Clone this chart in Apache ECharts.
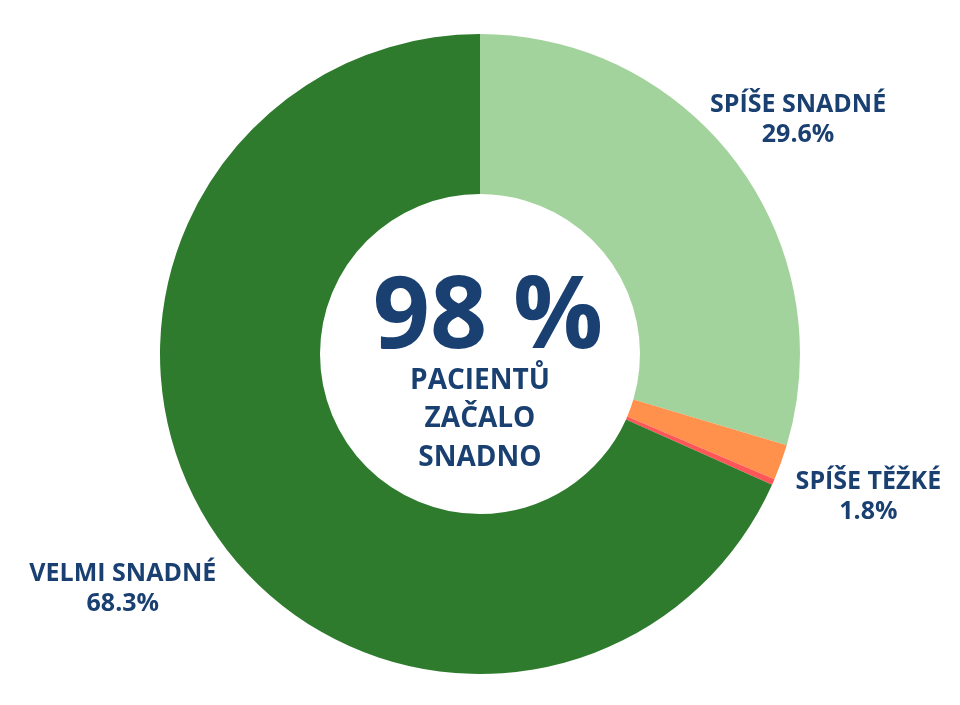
<!DOCTYPE html>
<html><head><meta charset="utf-8">
<script src="https://cdn.jsdelivr.net/npm/echarts@6/dist/echarts.min.js"></script>
<style>html,body{margin:0;padding:0;background:#fff}#c{width:960px;height:705px}</style>
</head><body><div id="c"></div>
<script>
const categories = ['SPÍŠE SNADNÉ', 'SPÍŠE TĚŽKÉ', 'VELMI TĚŽKÉ', 'VELMI SNADNÉ'];
const values = [29.6, 1.8, 0.3, 68.3];
const showLabel = [true, true, false, true];
const colors = ['#a3d39c', '#ff914d', '#ff5757', '#2e7b2e'];
const centerValue = '98 %';
const centerLines = ['PACIENTŮ', 'ZAČALO', 'SNADNO'];

const CX = 480, CY = 354, R_IN = 160, R_OUT = 320;
const labelDist = [1.24, 1.29, 1.2, 1.33];
const TEXT = '#1a4072';
const FONT = '"Open Sans", "Noto Sans", sans-serif';

const total = values.reduce((a, b) => a + b, 0);
const midAngles = [];
let acc = 0;
values.forEach(v => { midAngles.push((acc + v / 2) / total * 2 * Math.PI); acc += v; });

const chart = echarts.init(document.getElementById('c'));
chart.setOption({
  animation: false,
  backgroundColor: '#fff',
  series: [{
    type: 'pie',
    center: [CX, CY],
    radius: [R_IN, R_OUT],
    startAngle: 90,
    clockwise: true,
    avoidLabelOverlap: false,
    itemStyle: { borderWidth: 0 },
    label: {
      show: true,
      position: 'outside',
      formatter: p => p.name + '\n' + p.value.toFixed(1) + '%',
      color: TEXT,
      fontFamily: FONT,
      fontWeight: 'bold',
      fontSize: 25,
      lineHeight: 30,
      align: 'center'
    },
    labelLine: { show: false },
    labelLayout: function (params) {
      const i = params.dataIndex;
      const a = midAngles[i];
      const d = R_OUT * labelDist[i];
      return {
        x: CX + Math.sin(a) * d,
        y: CY - Math.cos(a) * d + 3,
        align: 'center',
        verticalAlign: 'middle'
      };
    },
    data: categories.map((c, i) => ({
      name: c, value: values[i],
      itemStyle: { color: colors[i] },
      label: { show: showLabel[i] }
    }))
  }],
  graphic: [
    {
      type: 'text', x: 488, y: 320,
      style: { text: centerValue, fill: TEXT, font: 'bold 100px ' + FONT, textAlign: 'center', textVerticalAlign: 'middle' }
    }
  ].concat(centerLines.map((t, i) => ({
    type: 'text', x: 480, y: 381 + i * 38.5,
    style: { text: t, fill: TEXT, font: 'bold 28px ' + FONT, textAlign: 'center', textVerticalAlign: 'middle' }
  })))
});
</script></body></html>
